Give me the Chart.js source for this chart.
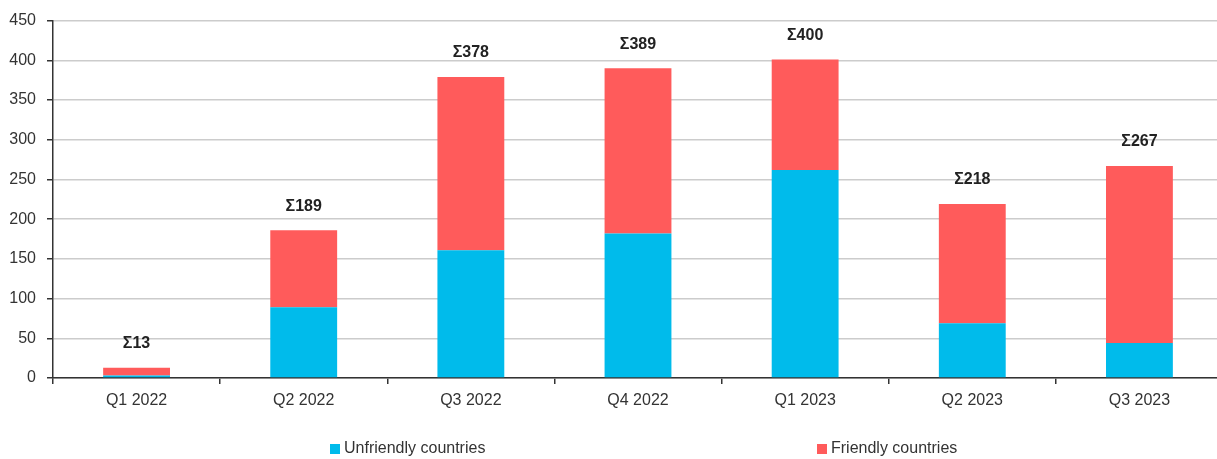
<!DOCTYPE html>
<html>
<head>
<meta charset="utf-8">
<title>Quarterly bars</title>
<script src="https://cdn.jsdelivr.net/npm/chart.js@4/dist/chart.umd.min.js"></script>
<style>
  html, body { margin: 0; padding: 0; overflow: hidden; background: #fff; }
  canvas { display: block; }
</style>
</head>
<body>
<canvas id="myChart" width="1223" height="459"></canvas>
<script>
const quarters = ['Q1 2022', 'Q2 2022', 'Q3 2022', 'Q4 2022', 'Q1 2023', 'Q2 2023', 'Q3 2023'];
const unfriendly = [3, 89, 161, 182, 262, 69, 44];
const friendly = [10, 97, 218, 208, 139, 150, 223];
const totals = ['Σ13', 'Σ189', 'Σ378', 'Σ389', 'Σ400', 'Σ218', 'Σ267'];
const yTicks = [0, 50, 100, 150, 200, 250, 300, 350, 400, 450];

const blue = '#00BBEB';
const red = '#FF5B5B';
const textColor = '#333333';
const fontName = '"Liberation Sans", Arial, sans-serif';

// totals written above each stacked bar
const totalsPlugin = {
    id: 'totals',
    afterDatasetsDraw(chart) {
        const ctx = chart.ctx;
        const top = chart.getDatasetMeta(1).data;
        ctx.save();
        ctx.font = 'bold 16px ' + fontName;
        ctx.fillStyle = '#222222';
        ctx.textAlign = 'center';
        ctx.textBaseline = 'middle';
        top.forEach((bar, i) => {
            ctx.fillText(totals[i], bar.x, bar.y - 24);
        });
        ctx.restore();
    }
};

// legend with wide spacing, as in the original
const legendPlugin = {
    id: 'wideLegend',
    afterDraw(chart) {
        const ctx = chart.ctx;
        const items = [
            {label: 'Unfriendly countries', color: blue, x: 330},
            {label: 'Friendly countries', color: red, x: 817}
        ];
        ctx.save();
        ctx.font = '16px ' + fontName;
        ctx.textBaseline = 'middle';
        ctx.textAlign = 'left';
        items.forEach(item => {
            ctx.fillStyle = item.color;
            ctx.fillRect(item.x, 444, 10, 10);
            ctx.fillStyle = textColor;
            ctx.fillText(item.label, item.x + 14, 449);
        });
        ctx.restore();
    }
};

const ctx = document.getElementById('myChart').getContext('2d');
const chart = new Chart(ctx, {
    type: 'bar',
    data: {
        labels: quarters,
        datasets: [
            {
                label: 'Unfriendly countries',
                backgroundColor: blue,
                data: unfriendly
            }, {
                label: 'Friendly countries',
                backgroundColor: red,
                data: friendly
            }
        ]
    },
    options: {
        responsive: false,
        animation: false,
        layout: {padding: {top: 17, left: 0, right: 0, bottom: 0}},
        datasets: {
            bar: {barPercentage: 0.4, categoryPercentage: 1}
        },
        plugins: {
            legend: {display: false},
            tooltip: {enabled: false}
        },
        scales: {
            x: {
                stacked: true,
                grid: {
                    display: true,
                    drawOnChartArea: false,
                    drawTicks: true,
                    tickLength: 6,
                    offset: true,
                    color: textColor,
                    lineWidth: 1.5
                },
                border: {color: textColor, width: 1.5},
                ticks: {
                    color: textColor,
                    font: {family: fontName, size: 16},
                    padding: 7,
                    maxRotation: 0
                },
                afterFit(scale) { scale.height = 81; }
            },
            y: {
                stacked: true,
                min: 0,
                max: 450,
                afterBuildTicks(scale) {
                    scale.ticks = yTicks.map(v => ({value: v}));
                },
                grid: {
                    color: '#cccccc',
                    lineWidth: 1.5,
                    tickLength: 6,
                    tickColor: textColor,
                    tickWidth: 1.5
                },
                border: {color: textColor, width: 1.5},
                ticks: {
                    color: textColor,
                    font: {family: fontName, size: 16},
                    padding: 11
                },
                afterFit(scale) { scale.width = 53; }
            }
        }
    },
    plugins: [totalsPlugin, legendPlugin]
});
</script>
</body>
</html>
